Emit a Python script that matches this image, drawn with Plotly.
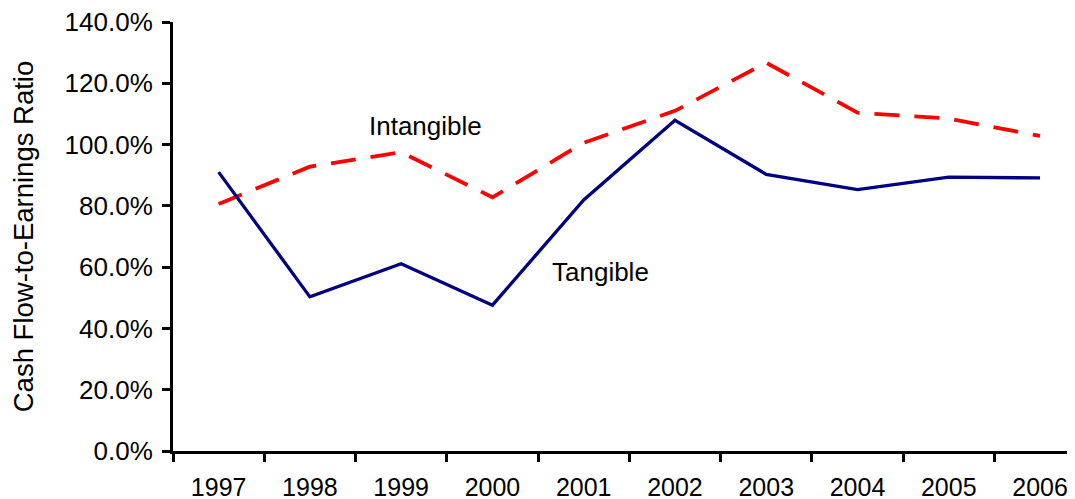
import plotly.graph_objects as go

years = ["1997", "1998", "1999", "2000", "2001", "2002", "2003", "2004", "2005", "2006"]
tangible = [91.0, 50.3, 61.1, 47.6, 81.9, 107.9, 90.3, 85.3, 89.4, 89.1]
intangible = [80.6, 92.8, 97.5, 82.8, 100.6, 111.0, 126.7, 110.4, 108.5, 102.8]
y_ticks = [0, 20, 40, 60, 80, 100, 120, 140]
y_tick_labels = [f"{v:.1f}%" for v in y_ticks]

FONT = "Liberation Sans, Arial, sans-serif"

fig = go.Figure()
fig.add_trace(go.Scatter(x=years, y=intangible, mode="lines", name="Intangible",
                         line=dict(color="#FF0000", width=3.8, dash="25px,15px")))
fig.add_trace(go.Scatter(x=years, y=tangible, mode="lines", name="Tangible",
                         line=dict(color="#000080", width=3.3)))

fig.add_annotation(x=2.27, y=106, text="Intangible", showarrow=False,
                   font=dict(family=FONT, size=26, color="black"))
fig.add_annotation(x=4.18, y=58.5, text="Tangible", showarrow=False,
                   font=dict(family=FONT, size=26, color="black"))

fig.update_layout(
    width=1075, height=499,
    margin=dict(l=165, r=8, t=14, b=56),
    paper_bgcolor="white", plot_bgcolor="white",
    showlegend=False,
    font=dict(family=FONT, size=26, color="black"),
    xaxis=dict(type="category", range=[-0.5, 9.383], showline=True, linecolor="black",
               linewidth=3, ticks="outside", tickson="boundaries", ticklen=8,
               tickwidth=2.5, tickcolor="black", showgrid=False, zeroline=False,
               tickfont=dict(size=25), ticklabelstandoff=12, automargin=False,
               ticklabeloverflow="allow"),
    yaxis=dict(range=[0, 140], tickvals=y_ticks, ticktext=y_tick_labels, showline=True,
               linecolor="black", linewidth=3, ticks="outside", ticklen=8, tickwidth=2.5,
               tickcolor="black", showgrid=False, zeroline=False, automargin=False,
               ticklabelstandoff=4, ticklabeloverflow="allow",
               title=dict(text="Cash Flow-to-Earnings Ratio", font=dict(size=27.5), standoff=24),
               tickfont=dict(size=26)),
)

fig.write_html("out.html")
